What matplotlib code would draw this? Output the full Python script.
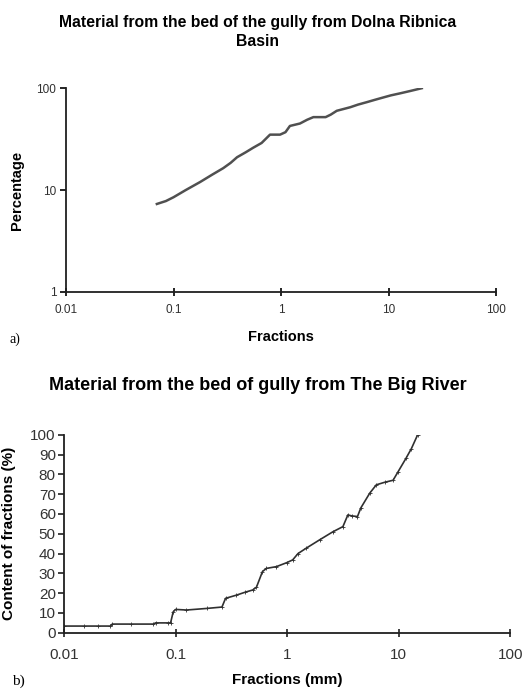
import matplotlib.pyplot as plt
from matplotlib.ticker import FixedLocator, FixedFormatter, NullLocator

## data
# a) Dolna Ribnica Basin (log-log)
frac_a = [0.070, 0.085, 0.10, 0.13, 0.177, 0.23, 0.29, 0.34, 0.39, 0.47, 0.55, 0.66, 0.79,
          0.98, 1.1, 1.21, 1.5, 1.75, 2.0, 2.6, 2.9, 3.3, 4.4, 5.2, 6.3, 7.5, 8.9, 10.5, 12.8, 16.0, 20.4]
perc_a = [7.3, 7.8, 8.5, 10.0, 12.0, 14.2, 16.4, 18.5, 21.0, 23.5, 26.0, 29.0, 35.0,
          35.0, 37.0, 42.6, 45.0, 49.0, 52.0, 52.0, 55.0, 60.0, 65.0, 69.0, 73.0, 77.0, 81.0, 85.0, 89.0, 94.0, 100.0]

# b) The Big River (semilog x)
frac_b = [0.010, 0.015, 0.020, 0.026, 0.027, 0.040, 0.063, 0.066, 0.085, 0.090, 0.095, 0.10,
          0.125, 0.19, 0.26, 0.28, 0.35, 0.42, 0.49, 0.53, 0.6, 0.65, 0.8, 0.99, 1.12, 1.25,
          1.48, 1.95, 2.57, 3.16, 3.5, 3.8, 4.27, 4.57, 5.5, 6.3, 7.5, 8.9, 9.8, 11.6, 13.0, 14.8]
perc_b = [3.4, 3.4, 3.4, 3.4, 4.4, 4.4, 4.4, 5.0, 5.0, 5.0, 10.6, 11.8,
          11.5, 12.3, 13.0, 17.4, 19.0, 20.5, 21.6, 23.0, 30.9, 32.5, 33.4, 35.4, 36.8, 40.0,
          42.7, 46.9, 51.0, 53.6, 59.5, 59.0, 58.7, 63.0, 70.5, 74.7, 76.0, 77.0, 81.0, 88.0, 93.0, 100.0]

xticks = [0.01, 0.1, 1, 10, 100]
xlabels = ['0.01', '0.1', '1', '10', '100']

plt.rcParams['font.family'] = ['Liberation Sans', 'DejaVu Sans']

fig = plt.figure(figsize=(5.26, 7.00), dpi=100)

##top chart
ax1 = fig.add_axes([0.1255, 0.583, 0.8175, 0.291])
ax1.plot(frac_a, perc_a, color='#505050', lw=1.8)
ax1.set_xscale('log')
ax1.set_yscale('log')
ax1.set_xlim(0.01, 100)
ax1.set_ylim(1, 100)
ax1.xaxis.set_major_locator(FixedLocator(xticks))
ax1.xaxis.set_major_formatter(FixedFormatter(xlabels))
ax1.xaxis.set_minor_locator(NullLocator())
ax1.yaxis.set_major_locator(FixedLocator([1, 10, 100]))
ax1.yaxis.set_major_formatter(FixedFormatter(['1', '10', '100']))
ax1.yaxis.set_minor_locator(NullLocator())
for s in ['top', 'right']:
    ax1.spines[s].set_visible(False)
for s in ['left', 'bottom']:
    ax1.spines[s].set_linewidth(1.3)
    ax1.spines[s].set_color('#202020')
ax1.tick_params(axis='x', direction='inout', length=6, width=1.2, labelsize=8.5, pad=6, labelcolor='#303030')
ax1.tick_params(axis='y', direction='out', length=4, width=1.2, labelsize=8.5, pad=3, labelcolor='#303030')
ax1.set_xlabel('Fractions', fontsize=10.5, fontweight='bold', labelpad=10)
ax1.set_ylabel('Percentage', fontsize=10.5, fontweight='bold', labelpad=9)
fig.text(0.49, 0.954, 'Material from the bed of the gully from Dolna Ribnica\nBasin',
         ha='center', va='center', fontsize=11.3, fontweight='bold', linespacing=1.3)
fig.text(0.018, 0.51, 'a)', fontsize=10, family=['Liberation Serif'])

##bottom chart
ax2 = fig.add_axes([0.122, 0.096, 0.848, 0.283])
ax2.plot(frac_b, perc_b, color='#303030', lw=1.2, marker='+', markersize=2.5, markeredgewidth=0.6)
ax2.set_xscale('log')
ax2.set_xlim(0.01, 100)
ax2.set_ylim(0, 100)
ax2.xaxis.set_major_locator(FixedLocator(xticks))
ax2.xaxis.set_major_formatter(FixedFormatter(xlabels))
ax2.xaxis.set_minor_locator(NullLocator())
ax2.set_yticks(range(0, 101, 10))
for s in ['top', 'right']:
    ax2.spines[s].set_visible(False)
for s in ['left', 'bottom']:
    ax2.spines[s].set_linewidth(1.3)
    ax2.spines[s].set_color('#202020')
ax2.tick_params(axis='x', direction='inout', length=6, width=1.2, labelsize=11, pad=8, colors='#202020', labelcolor='#333333')
ax2.tick_params(axis='y', direction='out', length=4, width=1.2, labelsize=11, pad=2, colors='#202020', labelcolor='#333333')
ax2.set_xlabel('Fractions (mm)', fontsize=11, fontweight='bold', labelpad=8)
ax2.set_ylabel('Content of fractions (%)', fontsize=11, fontweight='bold', labelpad=10)
fig.text(0.49, 0.45, 'Material from the bed of gully from The Big River',
         ha='center', va='center', fontsize=13, fontweight='bold')
fig.text(0.022, 0.022, 'b)', fontsize=11, family=['Liberation Serif'])

plt.savefig('out.png', dpi=100)
